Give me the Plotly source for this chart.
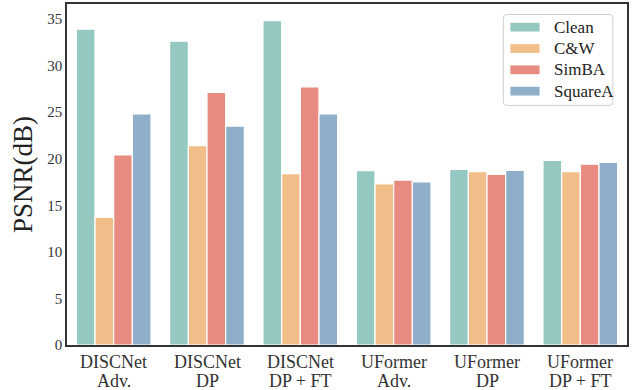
import plotly.graph_objects as go

# Models and defence settings on the x axis
models = ["DISCNet", "DISCNet", "DISCNet", "UFormer", "UFormer", "UFormer"]
settings = ["Adv.", "DP", "DP + FT", "Adv.", "DP", "DP + FT"]
categories = [f"{m} {s}" for m, s in zip(models, settings)]

# PSNR (dB) per attack
clean = [33.9, 32.6, 34.8, 18.7, 18.85, 19.8]
cw = [13.7, 21.4, 18.4, 17.3, 18.6, 18.6]
simba = [20.4, 27.1, 27.7, 17.7, 18.3, 19.4]
squarea = [24.8, 23.5, 24.8, 17.5, 18.75, 19.6]

series_names = ["Clean", "C&W", "SimBA", "SquareA"]
series_values = [clean, cw, simba, squarea]
colors = ["#96c8c2", "#f1be89", "#e88b80", "#8eaec9"]

y_ticks = [0, 5, 10, 15, 20, 25, 30, 35]

FONT = "'Liberation Serif', 'Times New Roman', Times, serif"

fig = go.Figure()
for name, vals, col in zip(series_names, series_values, colors):
    fig.add_trace(go.Bar(
        x=categories, y=vals, name=name,
        marker=dict(color=col, line=dict(color="white", width=1.2)),
        showlegend=False,
    ))

fig.update_layout(
    width=634, height=390,
    margin=dict(l=67, r=7, t=4, b=45),
    paper_bgcolor="white", plot_bgcolor="white",
    barmode="group", bargap=0.2, bargroupgap=0,
    font=dict(family=FONT, color="#333333"),
)
fig.update_xaxes(
    showline=True, linecolor="#333333", linewidth=1.5, mirror=True,
    showgrid=False, ticks="", automargin=False, showticklabels=False,
)
fig.update_yaxes(
    range=[0, 36.6], tickvals=y_ticks, showline=True, linecolor="#333333",
    linewidth=1.5, mirror=True, showgrid=False, zeroline=False, ticks="",
    automargin=False, tickfont=dict(family=FONT, size=15, color="#333333"),
    title=dict(text="PSNR(dB)", font=dict(family=FONT, size=27, color="#222222"),
               standoff=7),
)

# Two-line category labels under each group (tight line spacing)
for cat, m, s in zip(categories, models, settings):
    for text, shift in ((m, -17), (s, -36)):
        fig.add_annotation(x=cat, y=0, xref="x", yref="paper", text=text,
                           showarrow=False, yanchor="middle", yshift=shift,
                           font=dict(family=FONT, size=18, color="#333333"))

# Legend drawn as a rounded box with wide colour swatches
W, H = 634, 390
def px(x):
    return x / W
def py(y):
    return 1 - y / H

x0, x1, y0, y1, r = 494, 618, 12, 116, 4
path = (f"M{px(x0 + r)},{py(y0)} L{px(x1 - r)},{py(y0)} "
        f"Q{px(x1)},{py(y0)} {px(x1)},{py(y0 + r)} "
        f"L{px(x1)},{py(y1 - r)} Q{px(x1)},{py(y1)} {px(x1 - r)},{py(y1)} "
        f"L{px(x0 + r)},{py(y1)} Q{px(x0)},{py(y1)} {px(x0)},{py(y1 - r)} "
        f"L{px(x0)},{py(y0 + r)} Q{px(x0)},{py(y0)} {px(x0 + r)},{py(y0)} Z")
fig.add_shape(type="path", path=path, xref="paper", yref="paper",
              line=dict(color="#d0d0d0", width=1), fillcolor="rgba(255,255,255,0.9)")

for i, (name, col) in enumerate(zip(series_names, colors)):
    cy = 26.5 + i * 24.4
    fig.add_shape(type="rect", xref="paper", yref="paper",
                  x0=px(502), x1=px(535), y0=py(cy + 5), y1=py(cy - 5),
                  fillcolor=col, line=dict(width=0))
    fig.add_annotation(x=px(549), y=py(cy), xref="paper", yref="paper",
                       text=name, showarrow=False, xanchor="left", yanchor="middle",
                       font=dict(family=FONT, size=17, color="#222222"))

fig.write_html("out.html")
